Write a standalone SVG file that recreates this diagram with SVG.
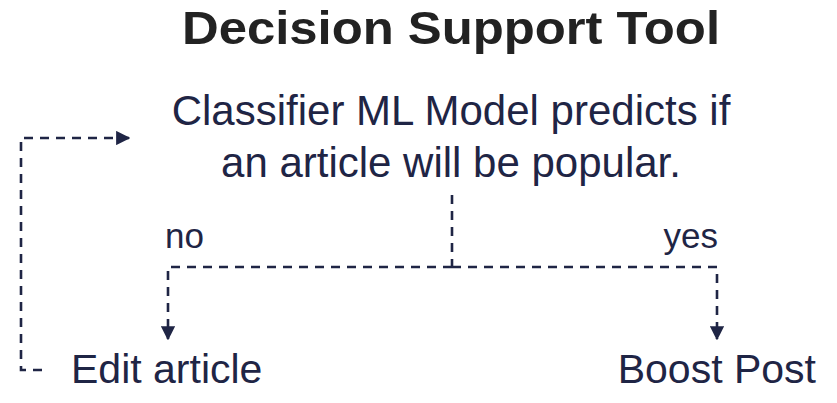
<svg xmlns="http://www.w3.org/2000/svg" width="837" height="403" viewBox="0 0 837 403">
<style>
.t{font-family:"Liberation Sans",Arial,sans-serif;fill:#1f2545}
.c{fill:none;stroke:#1f2545;stroke-width:2.6;stroke-dasharray:9 7}
</style>
<defs>
<marker id="ah" viewBox="0 0 10 10" refX="9" refY="5" markerWidth="5.5" markerHeight="5.5" orient="auto" markerUnits="strokeWidth">
<path d="M0,0 L10,5 L0,10 Z" fill="#1f2545"/>
</marker>
</defs>
<rect width="837" height="403" fill="#fff"/>
<g id="title"><text class="t" x="182" y="44" font-size="47" font-weight="bold" textLength="538" lengthAdjust="spacingAndGlyphs" style="fill:#222">Decision Support Tool</text></g>
<g id="classifier"><text class="t" x="451" y="125" text-anchor="middle" font-size="42">Classifier ML Model predicts if</text>
<text class="t" x="451" y="177" text-anchor="middle" font-size="42">an article will be popular.</text></g>
<g id="edit"><text class="t" x="71" y="383" font-size="41">Edit article</text></g>
<g id="boost"><text class="t" x="816" y="383" text-anchor="end" font-size="41">Boost Post</text></g>
<g id="connectors">
<path class="c" d="M452,195 V267"/>
<path class="c" d="M452,267 H168 V339" marker-end="url(#ah)"/>
<path class="c" d="M452,267 H717 V339" marker-end="url(#ah)"/>
<path class="c" d="M42,370 H21 V138 H129" marker-end="url(#ah)"/>
<text class="t" x="165" y="248" font-size="35">no</text>
<text class="t" x="718" y="248" text-anchor="end" font-size="35">yes</text>
</g>
</svg>
